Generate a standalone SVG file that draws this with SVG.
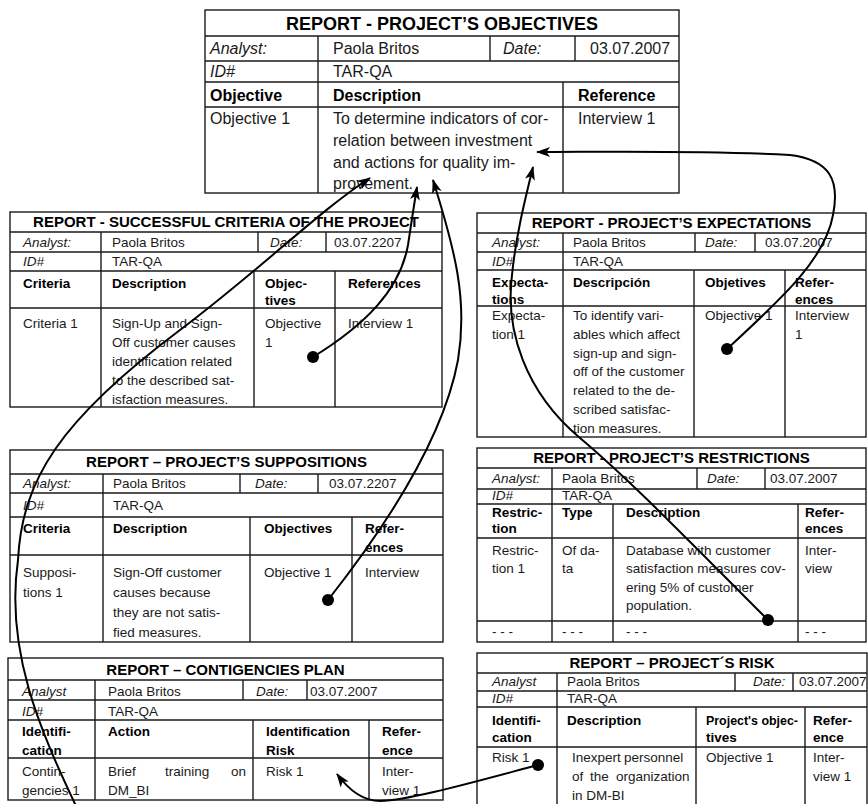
<svg xmlns="http://www.w3.org/2000/svg" width="868" height="804" viewBox="0 0 868 804">
<defs>
<style>
text{font-family:"Liberation Sans",Arial,sans-serif;fill:#1a1a1a}
.ttl{font-weight:bold;font-size:15px;text-anchor:middle;fill:#000}
.big{font-size:18px}
.s{font-size:13.5px}
.m{font-size:16px}
.i{font-style:italic}
.b{font-weight:bold;fill:#000}
.g{fill:none;stroke:#1a1a1a;stroke-width:1.4}
.c{fill:none;stroke:#000;stroke-width:2}
.dot{fill:#000}
</style>
<marker id="ah" viewBox="0 0 14 10" refX="13" refY="5" markerWidth="14" markerHeight="10" markerUnits="userSpaceOnUse" orient="auto"><path d="M0,0 L14,5 L0,10 L3.5,5 z" fill="#000"/></marker>
</defs>
<rect width="868" height="804" fill="#fff"/>

<g id="objectives">
<rect class="g" x="205" y="10" width="474" height="183"/>
<path class="g" d="M205,36H679M205,61H679M205,82H679M205,107H679M318,36V193M490,36V61M575,36V61M563,82V193"/>
<text class="ttl big" x="442" y="30">REPORT - PROJECT’S OBJECTIVES</text>
<text class="m i" x="210" y="54">Analyst:</text>
<text class="m" x="333" y="54">Paola Britos</text>
<text class="m i" x="503" y="54">Date:</text>
<text class="m" x="590" y="54">03.07.2007</text>
<text class="m i" x="210" y="77">ID#</text>
<text class="m" x="333" y="77">TAR-QA</text>
<text class="m b" x="210" y="101">Objective</text>
<text class="m b" x="333" y="101">Description</text>
<text class="m b" x="578" y="101">Reference</text>
<text class="m" x="210" y="124">Objective 1</text>
<text class="m" x="333" y="124">To determine indicators of cor-</text>
<text class="m" x="333" y="146">relation between investment</text>
<text class="m" x="333" y="168">and actions for quality im-</text>
<text class="m" x="333" y="189">provement.</text>
<text class="m" x="578" y="124">Interview 1</text>
</g>

<g id="criteria">
<rect class="g" x="10" y="212" width="432" height="195"/>
<path class="g" d="M10,232H442M10,252H442M10,271H442M10,308H442M101,232V407M258,232V252M326,232V252M254,271V407M335,271V407"/>
<text class="ttl" x="226" y="227">REPORT - SUCCESSFUL CRITERIA OF THE PROJECT</text>
<text class="s i" x="23" y="247">Analyst:</text>
<text class="s" x="112" y="247">Paola Britos</text>
<text class="s i" x="270" y="247">Date:</text>
<text class="s" x="334" y="247">03.07.2207</text>
<text class="s i" x="23" y="266">ID#</text>
<text class="s" x="112" y="266">TAR-QA</text>
<text class="s b" x="23" y="288">Criteria</text>
<text class="s b" x="112" y="288">Description</text>
<text class="s b" x="265" y="288">Objec-</text>
<text class="s b" x="265" y="305">tives</text>
<text class="s b" x="348" y="288">References</text>
<text class="s" x="23" y="328">Criteria 1</text>
<text class="s" x="112" y="328">Sign-Up and Sign-</text>
<text class="s" x="112" y="347">Off customer causes</text>
<text class="s" x="112" y="366">identification related</text>
<text class="s" x="112" y="385">to the described sat-</text>
<text class="s" x="112" y="404">isfaction measures.</text>
<text class="s" x="265" y="328">Objective</text>
<text class="s" x="265" y="347">1</text>
<text class="s" x="348" y="328">Interview 1</text>
</g>

<g id="expectations">
<rect class="g" x="477" y="213" width="389" height="224"/>
<path class="g" d="M477,233H866M477,252H866M477,270H866M477,306H866M563,233V437M695,233V252M755,233V252M694,270V437M785,270V437"/>
<text class="ttl" x="671.5" y="228">REPORT - PROJECT’S EXPECTATIONS</text>
<text class="s i" x="492" y="247">Analyst:</text>
<text class="s" x="573" y="247">Paola Britos</text>
<text class="s i" x="705" y="247">Date:</text>
<text class="s" x="765" y="247">03.07.2007</text>
<text class="s i" x="492" y="266">ID#</text>
<text class="s" x="573" y="266">TAR-QA</text>
<text class="s b" x="492" y="287">Expecta-</text>
<text class="s b" x="492" y="304">tions</text>
<text class="s b" x="573" y="287">Descripción</text>
<text class="s b" x="705" y="287">Objetives</text>
<text class="s b" x="795" y="287">Refer-</text>
<text class="s b" x="795" y="304">ences</text>
<text class="s" x="492" y="320">Expecta-</text>
<text class="s" x="492" y="339">tion 1</text>
<text class="s" x="573" y="320">To identify vari-</text>
<text class="s" x="573" y="339">ables which affect</text>
<text class="s" x="573" y="358">sign-up and sign-</text>
<text class="s" x="573" y="376">off of the customer</text>
<text class="s" x="573" y="395">related to the de-</text>
<text class="s" x="573" y="414">scribed satisfac-</text>
<text class="s" x="573" y="433">tion measures.</text>
<text class="s" x="705" y="320">Objective 1</text>
<text class="s" x="795" y="320">Interview</text>
<text class="s" x="795" y="339">1</text>
</g>

<g id="suppositions">
<rect class="g" x="10" y="450" width="433" height="192"/>
<path class="g" d="M10,474H443M10,493H443M10,517H443M10,555H443M103,474V642M240,474V493M318,474V493M250,517V642M352,517V642"/>
<text class="ttl" x="226.5" y="467">REPORT – PROJECT’S SUPPOSITIONS</text>
<text class="s i" x="23" y="488">Analyst:</text>
<text class="s" x="113" y="488">Paola Britos</text>
<text class="s i" x="255" y="488">Date:</text>
<text class="s" x="329" y="488">03.07.2207</text>
<text class="s i" x="23" y="510">ID#</text>
<text class="s" x="113" y="510">TAR-QA</text>
<text class="s b" x="23" y="533">Criteria</text>
<text class="s b" x="113" y="533">Description</text>
<text class="s b" x="264" y="533">Objectives</text>
<text class="s b" x="365" y="533">Refer-</text>
<text class="s b" x="365" y="552">ences</text>
<text class="s" x="23" y="577">Supposi-</text>
<text class="s" x="23" y="597">tions 1</text>
<text class="s" x="113" y="577">Sign-Off customer</text>
<text class="s" x="113" y="597">causes because</text>
<text class="s" x="113" y="617">they are not satis-</text>
<text class="s" x="113" y="637">fied measures.</text>
<text class="s" x="264" y="577">Objective 1</text>
<text class="s" x="365" y="577">Interview</text>
</g>

<g id="restrictions">
<rect class="g" x="477" y="448" width="389" height="194"/>
<path class="g" d="M477,468H866M477,489H866M477,504H866M477,538H866M477,621H866M552,468V642M697,468V489M765,468V489M613,504V642M798,504V642"/>
<text class="ttl" x="671.5" y="463">REPORT - PROJECT’S RESTRICTIONS</text>
<text class="s i" x="492" y="483">Analyst:</text>
<text class="s" x="562" y="483">Paola Britos</text>
<text class="s i" x="707" y="483">Date:</text>
<text class="s" x="770" y="483">03.07.2007</text>
<text class="s i" x="492" y="500">ID#</text>
<text class="s" x="562" y="500">TAR-QA</text>
<text class="s b" x="492" y="517">Restric-</text>
<text class="s b" x="492" y="533">tion</text>
<text class="s b" x="562" y="517">Type</text>
<text class="s b" x="626" y="517">Description</text>
<text class="s b" x="805" y="517">Refer-</text>
<text class="s b" x="805" y="533">ences</text>
<text class="s" x="492" y="555">Restric-</text>
<text class="s" x="492" y="573">tion 1</text>
<text class="s" x="562" y="555">Of da-</text>
<text class="s" x="562" y="573">ta</text>
<text class="s" x="626" y="555">Database with customer</text>
<text class="s" x="626" y="573">satisfaction measures cov-</text>
<text class="s" x="626" y="592">ering 5% of customer</text>
<text class="s" x="626" y="610">population.</text>
<text class="s" x="805" y="555">Inter-</text>
<text class="s" x="805" y="573">view</text>
<text class="s" x="492" y="636">- - -</text>
<text class="s" x="562" y="636">- - -</text>
<text class="s" x="626" y="636">- - -</text>
<text class="s" x="805" y="636">- - -</text>
</g>

<g id="contingencies">
<rect class="g" x="8" y="658" width="435" height="142"/>
<path class="g" d="M8,680H443M8,700H443M8,720H443M8,758H443M95,680V800M243,680V700M307,680V700M253,720V800M369,720V800"/>
<text class="ttl" x="225.5" y="675">REPORT – CONTIGENCIES PLAN</text>
<text class="s i" x="22" y="696">Analyst</text>
<text class="s" x="108" y="696">Paola Britos</text>
<text class="s i" x="256" y="696">Date:</text>
<text class="s" x="310" y="696">03.07.2007</text>
<text class="s i" x="22" y="716">ID#</text>
<text class="s" x="108" y="716">TAR-QA</text>
<text class="s b" x="22" y="736">Identifi-</text>
<text class="s b" x="22" y="755">cation</text>
<text class="s b" x="108" y="736">Action</text>
<text class="s b" x="266" y="736">Identification</text>
<text class="s b" x="266" y="755">Risk</text>
<text class="s b" x="382" y="736">Refer-</text>
<text class="s b" x="382" y="755">ence</text>
<text class="s" x="22" y="776">Contin-</text>
<text class="s" x="22" y="795">gencies 1</text>
<text class="s" y="776"><tspan x="108">Brief</tspan><tspan x="165">training</tspan><tspan x="231">on</tspan></text>
<text class="s" x="108" y="795">DM_BI</text>
<text class="s" x="266" y="776">Risk 1</text>
<text class="s" x="382" y="776">Inter-</text>
<text class="s" x="382" y="795">view 1</text>
</g>

<g id="risk">
<rect class="g" x="477" y="653" width="390" height="160"/>
<path class="g" d="M477,673H867M477,691H867M477,707H867M477,747H867M557,673V813M735,673V691M793,673V691M696,707V813M805,707V813"/>
<text class="ttl" x="672" y="668">REPORT – PROJECT´S RISK</text>
<text class="s i" x="492" y="686">Analyst</text>
<text class="s" x="567" y="686">Paola Britos</text>
<text class="s i" x="753" y="686">Date:</text>
<text class="s" x="799" y="686">03.07.2007</text>
<text class="s i" x="492" y="703">ID#</text>
<text class="s" x="567" y="703">TAR-QA</text>
<text class="s b" x="492" y="725">Identifi-</text>
<text class="s b" x="492" y="742">cation</text>
<text class="s b" x="567" y="725">Description</text>
<text class="s b" x="706" y="725" textLength="92" lengthAdjust="spacingAndGlyphs">Project's objec-</text>
<text class="s b" x="706" y="742">tives</text>
<text class="s b" x="813" y="725">Refer-</text>
<text class="s b" x="813" y="742">ence</text>
<text class="s" x="492" y="762">Risk 1</text>
<text class="s" y="762"><tspan x="572">Inexpert</tspan><tspan x="624">personnel</tspan></text>
<text class="s" y="781"><tspan x="572">of</tspan><tspan x="590">the</tspan><tspan x="616">organization</tspan></text>
<text class="s" x="572" y="800">in DM-BI</text>
<text class="s" x="706" y="762">Objective 1</text>
<text class="s" x="813" y="762">Inter-</text>
<text class="s" x="813" y="781">view 1</text>
</g>

<g id="connectors">
<path class="c" marker-end="url(#ah)" d="M76,806 C40,730 5,650 18,560 C22,480 60,420 180,330 C260,270 320,210 370,178"/>
<path class="c" marker-end="url(#ah)" d="M313,357 C365,325 400,290 408,245 C411,225 414,205 417,187"/>
<path class="c" marker-end="url(#ah)" d="M328,600 C395,515 445,430 458,360 C468,300 455,250 433,180"/>
<path class="c" marker-end="url(#ah)" d="M768,620 C690,542 630,480 580,438 C525,392 505,330 512,275 C516,235 525,200 533,167"/>
<path class="c" marker-end="url(#ah)" d="M727,349 C780,300 825,260 833,215 C840,180 830,160 790,155 C700,150 600,152 537,152"/>
<path class="c" marker-end="url(#ah)" d="M538,765 C470,783 410,800 380,801 C362,801 348,789 337,774"/>
<circle class="dot" cx="313" cy="357" r="6"/>
<circle class="dot" cx="727" cy="349" r="6"/>
<circle class="dot" cx="328" cy="600" r="6"/>
<circle class="dot" cx="768" cy="620" r="6"/>
<circle class="dot" cx="538" cy="765" r="6"/>
</g>
</svg>
